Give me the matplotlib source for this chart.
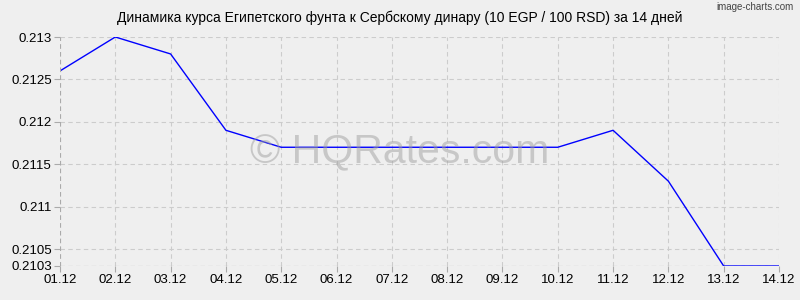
import matplotlib
matplotlib.use("Agg")
import matplotlib.pyplot as plt

days = ["01.12", "02.12", "03.12", "04.12", "05.12", "06.12", "07.12",
        "08.12", "09.12", "10.12", "11.12", "12.12", "13.12", "14.12"]
rates = [0.2126, 0.2130, 0.2128, 0.2119, 0.2117, 0.2117, 0.2117,
         0.2117, 0.2117, 0.2117, 0.2119, 0.2113, 0.2103, 0.2103]
yticks = [0.2103, 0.2105, 0.211, 0.2115, 0.212, 0.2125, 0.213]
ylabels = ["0.2103", "0.2105", "0.211", "0.2115", "0.212", "0.2125", "0.213"]

plt.rcParams['font.family'] = ['Liberation Sans', 'DejaVu Sans']
bg = '#efefef'

fig = plt.figure(figsize=(8, 3), dpi=100, facecolor=bg)
ax = fig.add_axes([60/800, 34/300, 719/800, 229/300], facecolor=bg)

x = list(range(len(days)))
ax.plot(x, rates, color='#0000ff', lw=1)

ax.set_xlim(0, len(days) - 1)
ax.set_ylim(yticks[0], yticks[-1])
ax.set_xticks(x)
ax.set_xticklabels(days)
ax.set_yticks(yticks)
ax.set_yticklabels(ylabels)
ax.tick_params(labelsize=9.5, length=4, color='#aaaaaa', width=0.8, pad=2)
ax.grid(True, color='#cccccc', ls=(0, (4, 3)), lw=0.8)
for s in ax.spines.values():
    s.set_visible(False)
ax.axvline(0, color='#aaaaaa', ls=(0, (4, 3)), lw=0.8)
ax.axhline(yticks[0], color='#aaaaaa', ls=(0, (4, 3)), lw=0.8)

# watermark sits over the line, semi-transparent
ax.text(400/800, 1 - 163/300, "© HQRates.com", transform=fig.transFigure,
        ha='center', va='baseline', fontsize=29.5, color='#a0a0a0', alpha=0.5,
        zorder=5)

fig.text(0.5, 1 - 18/300, "Динамика курса Египетского фунта к Сербскому динару (10 EGP / 100 RSD) за 14 дней",
         ha='center', va='center', fontsize=10)
fig.text(0.992, 1 - 7/300, "image-charts.com", ha='right', va='center',
         fontsize=7, color='#444444')

fig.savefig("out.png", dpi=100, facecolor=bg)
